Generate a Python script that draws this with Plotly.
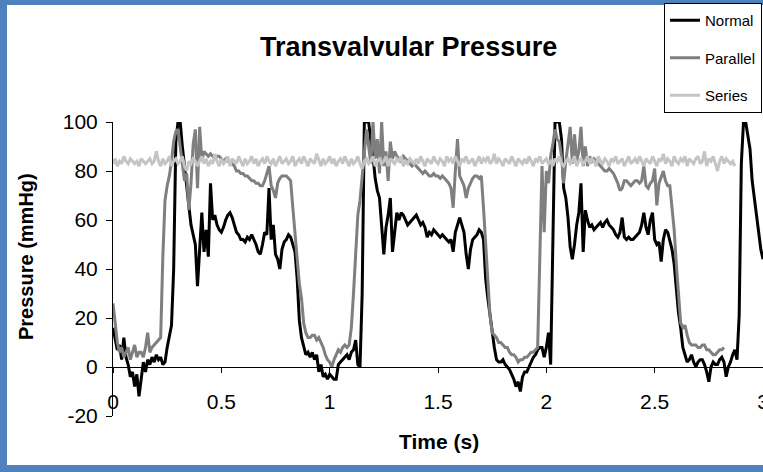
import plotly.graph_objects as go

# ---------------- data (sampled every 0.01 s) ----------------
dt = 0.01
normal = [
    16, 12, 7, 9, 3, 12, 4, 1, -4, -2,
    -8, -3, -12, -5, 2, -2, 3, 1, 4, 2,
    5, 3, 4, 1, 2, 8, 12, 17, 40, 92,
    100, 100, 90, 82, 72, 64, 58, 54, 50, 33,
    51, 63, 47, 56, 45, 75, 60, 62, 58, 56,
    55, 57, 60, 62, 63, 61, 58, 55, 54, 52,
    52, 51, 53, 52, 54, 52, 50, 47, 46, 50,
    55, 54, 73, 52, 58, 46, 44, 40, 48, 51,
    52, 54, 53, 50, 47, 36, 19, 12, 8, 5,
    6, 4, 6, 3, 5, -2, 1, -4, -3, -5,
    -3, -4, -5, -5, 1, 2, 3, 4, 5, 3,
    6, 7, 11, 1, 0, 30, 100, 100, 100, 92,
    86, 77, 72, 69, 57, 46, 57, 62, 69, 47,
    55, 63, 60, 63, 62, 60, 58, 59, 60, 61,
    62, 60, 58, 59, 57, 53, 55, 54, 56, 55,
    54, 53, 54, 53, 52, 51, 52, 47, 55, 58,
    61, 58, 55, 46, 40, 48, 52, 53, 54, 56,
    55, 52, 36, 28, 21, 14, 8, 3, 2, 2,
    3, 1, 0, -1, -3, -5, -8, -6, -10, -4,
    -2, -2, 0, 2, 4, 5, 7, 8, 8, 4,
    8, 14, 1, 50, 100, 100, 100, 93, 73, 69,
    61, 49, 44, 50, 58, 63, 75, 47, 64, 60,
    57, 58, 56, 57, 58, 59, 57, 59, 60, 58,
    57, 56, 54, 53, 55, 61, 53, 52, 53, 52,
    52, 53, 54, 55, 58, 63, 57, 54, 60, 63,
    52, 50, 51, 43, 52, 56, 55, 52, 48, 42,
    30, 22, 16, 8, 5, 2, 3, 5, 2, 0,
    2, 3, 3, 1, -2, -6, 0, 2, 1, 1,
    3, 4, 2, -4, 0, 2, 5, 7, 3, 21,
    83, 100, 100, 95, 89, 76, 68, 62, 55, 48, 44,
]
parallel = [
    26, 17, 10, 6, 8, 4, 6, 8, 3, 6,
    9, 4, 6, 6, 4, 8, 14, 6, 8, 9,
    10, 11, 12, 45, 68, 74, 78, 84, 92, 96,
    97, 90, 84, 76, 79, 64, 75, 91, 97, 73,
    98, 84, 88, 87, 86, 87, 86, 85, 86, 86,
    85, 84, 85, 84, 84, 83, 82, 80, 80, 79,
    79, 78, 78, 77, 76, 76, 75, 75, 74, 74,
    76, 79, 82, 74, 72, 69, 75, 77, 78, 78,
    78, 77, 76, 65, 54, 44, 34, 28, 18, 14,
    12, 12, 13, 13, 11, 12, 10, 8, 5, 3,
    2, 0, 3, 5, 7, 6, 8, 9, 8, 9,
    16, 30, 48, 62, 68, 78, 88, 97, 90, 83,
    100, 85, 93, 79, 100, 82, 88, 76, 92, 85,
    88, 86, 85, 84, 86, 85, 84, 83, 82, 83,
    82, 81, 80, 79, 80, 79, 78, 78, 79, 78,
    78, 77, 78, 77, 76, 75, 73, 65, 80, 93,
    78, 76, 74, 69, 73, 75, 77, 78, 78, 77,
    78, 65, 49, 32, 21, 14, 13, 12, 10, 10,
    9, 8, 8, 6, 5, 5, 4, 2, 3, 3,
    4, 4, 5, 6, 6, 7, 8, 45, 82, 55,
    80, 75, 86, 91, 97, 93, 92, 86, 75, 84,
    90, 98, 83, 95, 84, 88, 98, 82, 90, 82,
    86, 84, 85, 84, 83, 82, 81, 80, 80, 81,
    80, 79, 77, 75, 72, 73, 76, 76, 75, 74,
    75, 76, 76, 75, 76, 82, 74, 73, 75, 76,
    81, 66, 75, 78, 80, 76, 74, 74, 66, 56,
    42, 28, 18, 16, 17, 13, 10, 9, 9, 9,
    8, 8, 9, 9, 7, 7, 6, 5, 5, 6,
    7, 7, 8,
]
series = [
    83, 85, 82, 84, 83, 86, 84, 83, 85, 84,
    83, 84, 82, 85, 84, 83, 84, 85, 83, 84,
    88, 84, 82, 85, 83, 84, 86, 82, 84, 85,
    83, 84, 86, 82, 80, 84, 83, 85, 84, 82,
    84, 86, 83, 85, 82, 84, 83, 87, 84, 82,
    85, 83, 84, 86, 82, 85, 84, 83, 86, 84,
    82, 85, 83, 84, 86, 83, 85, 82, 84, 85,
    83, 86, 84, 83, 85, 82, 84, 86, 83, 84,
    85, 83, 84, 86, 82, 84, 85, 83, 86, 84,
    82, 85, 84, 83, 87, 84, 82, 85, 83, 84,
    86, 83, 85, 82, 84, 85, 83, 86, 84, 82,
    85, 83, 84, 86, 83, 81, 84, 85, 83, 84,
    86, 82, 84, 85, 83, 84, 86, 82, 85, 84,
    83, 85, 84, 86, 82, 84, 83, 85, 84, 83,
    85, 83, 86, 84, 82, 85, 84, 83, 86, 84,
    83, 85, 84, 82, 86, 84, 85, 83, 86, 84,
    82, 85, 84, 86, 83, 84, 85, 82, 84, 86,
    83, 85, 84, 86, 83, 84, 87, 83, 85, 84,
    82, 85, 84, 83, 86, 84, 82, 85, 84, 83,
    85, 83, 86, 84, 82, 85, 84, 86, 83, 84,
    85, 83, 84, 82, 85, 84, 86, 83, 82, 84,
    85, 83, 84, 86, 82, 84, 85, 83, 84, 86,
    83, 85, 84, 82, 86, 84, 83, 85, 84, 82,
    85, 84, 86, 83, 84, 85, 82, 84, 86, 83,
    84, 85, 83, 86, 84, 82, 85, 84, 83, 86,
    84, 82, 85, 84, 87, 83, 85, 84, 82, 86,
    84, 83, 85, 84, 86, 82, 85, 84, 83, 85,
    86, 83, 84, 88, 82, 85, 84, 86, 83, 80,
    84, 86, 83, 85, 84, 83, 84, 82,
]
names = ["Normal", "Parallel", "Series"]
colors = ["#000000", "#7f7f7f", "#c4c4c4"]
x_ticks = [0, 0.5, 1, 1.5, 2, 2.5, 3]
y_ticks = [-20, 0, 20, 40, 60, 80, 100]
x_range = [0, 3]
y_range = [-20, 100]

# ---------------- layout geometry ----------------
W, H = 763, 472
L, R, T, B = 113, 0, 122, 56
PW, PH = W - L - R, H - T - B

def px_x(px):
    return (px - L) / PW

def px_y(py):
    return (H - B - py) / PH

fig = go.Figure()
for name, vals, col in zip(names, [normal, parallel, series], colors):
    fig.add_trace(go.Scatter(
        x=[round(i * dt, 2) for i in range(len(vals))], y=vals,
        mode="lines", name=name, legendgroup=name,
        line=dict(color=col, width=3),
    ))

font = "Liberation Sans, Arial, sans-serif"
x_pos = (0 - y_range[0]) / (y_range[1] - y_range[0])

fig.update_layout(
    width=W, height=H,
    margin=dict(l=L, r=R, t=T, b=B, pad=0, autoexpand=False),
    paper_bgcolor="white", plot_bgcolor="white",
    font=dict(family=font, color="black", size=21),
    showlegend=True,
    legend=dict(
        x=px_x(762), xanchor="right", y=px_y(3), yanchor="top",
        bordercolor="black", borderwidth=1, bgcolor="white",
        font=dict(size=15), tracegroupgap=15, itemwidth=30,
    ),
    xaxis=dict(
        range=x_range, tickvals=x_ticks, ticktext=[f"{v:g}" for v in x_ticks],
        showgrid=False, zeroline=False, showline=True, linecolor="black",
        linewidth=1, ticks="outside", ticklen=5, tickcolor="black",
        anchor="free", position=x_pos, ticklabelstandoff=11,
        ticklabeloverflow="allow", tickfont=dict(size=21),
    ),
    yaxis=dict(
        range=y_range, tickvals=y_ticks, ticktext=[str(v) for v in y_ticks],
        showgrid=False, zeroline=False,
        showline=True, linecolor="black", linewidth=1, ticks="outside",
        ticklen=6, tickcolor="black", tickfont=dict(size=21),
        ticklabelstandoff=4,
    ),
    annotations=[
        dict(text="<b>Transvalvular Pressure</b>", xref="paper", yref="paper",
             x=px_x(408), y=px_y(47), xanchor="center", yanchor="middle",
             showarrow=False, font=dict(size=27)),
        dict(text="<b>Pressure (mmHg)</b>", xref="paper", yref="paper",
             x=px_x(26), y=px_y(257), xanchor="center", yanchor="middle",
             showarrow=False, textangle=-90, font=dict(size=20)),
        dict(text="<b>Time (s)</b>", xref="paper", yref="paper",
             x=px_x(439), y=px_y(441), xanchor="center", yanchor="middle",
             showarrow=False, font=dict(size=21)),
    ],
    shapes=[
        dict(type="rect", xref="paper", yref="paper", layer="above",
             x0=px_x(0), x1=px_x(7), y0=px_y(0), y1=px_y(472),
             fillcolor="#4f81bd", line=dict(width=0)),
        dict(type="rect", xref="paper", yref="paper", layer="above",
             x0=px_x(0), x1=px_x(763), y0=px_y(0), y1=px_y(5),
             fillcolor="#4f81bd", line=dict(width=0)),
        dict(type="rect", xref="paper", yref="paper", layer="above",
             x0=px_x(0), x1=px_x(763), y0=px_y(465), y1=px_y(472),
             fillcolor="#4f81bd", line=dict(width=0)),
    ],
)

fig.write_html("out.html")
